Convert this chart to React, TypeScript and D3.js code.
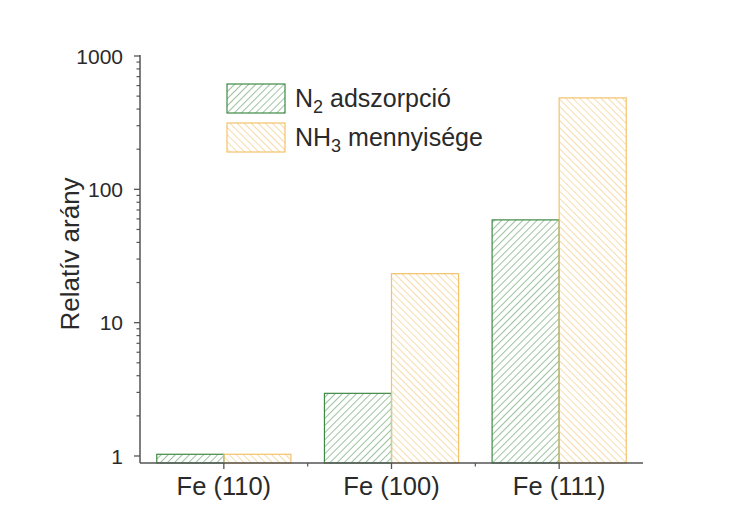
import React from "react";
import * as d3 from "d3";

const categories = ["Fe (110)", "Fe (100)", "Fe (111)"];
const n2Values = [1.03, 2.95, 59];
const nh3Values = [1.03, 23.3, 485];
const yTicks = [1, 10, 100, 1000];

const W = 729, H = 531;
const left = 140, right = 643, top = 56, bottom = 463;

export default function App() {
  const x = d3.scaleBand<string>().domain(categories).range([left, right]).paddingInner(0.2).paddingOuter(0.1);
  const y = d3.scaleLog().domain([0.886, 1000]).range([bottom, top]);
  const bw = x.bandwidth() / 2;
  const green = "#3f8a45";
  const greenHatch = "#5a9a5e";
  const orange = "#f3c26a";
  const orangeHatch = "#f1c575";
  const minorTicks: number[] = [];
  for (let d = 1; d <= 100; d *= 10) for (let k = 2; k <= 9; k++) minorTicks.push(d * k);
  const bandEdges = categories.map((c) => x(c)! + x.bandwidth() + x.step() * 0.1);
  const font = "'Liberation Sans', Arial, sans-serif";
  const textColor = "#2a2a2a";
  return (
    <svg width={W} height={H} style={{ position: "absolute", left: 0, top: 0, background: "#fff" }}>
      <defs>
        <pattern id="hg" patternUnits="userSpaceOnUse" width="5" height="5" patternTransform="rotate(45)">
          <line x1="0" y1="0" x2="0" y2="5" stroke={greenHatch} strokeWidth="1.2" />
        </pattern>
        <pattern id="ho" patternUnits="userSpaceOnUse" width="5" height="5" patternTransform="rotate(-45)">
          <line x1="0" y1="0" x2="0" y2="5" stroke={orangeHatch} strokeWidth="1.2" />
        </pattern>
      </defs>
      {categories.map((c, i) => (
        <g key={c}>
          <rect x={x(c)!} y={y(n2Values[i])} width={bw} height={bottom - y(n2Values[i])} fill="url(#hg)" stroke={green} strokeWidth={1.2} />
          <rect x={x(c)! + bw} y={y(nh3Values[i])} width={bw} height={bottom - y(nh3Values[i])} fill="url(#ho)" stroke={orange} strokeWidth={1.2} />
        </g>
      ))}
      <line x1={left} x2={left} y1={top - 1} y2={bottom} stroke="#555" strokeWidth={1.5} />
      <line x1={left} x2={right} y1={bottom} y2={bottom} stroke="#555" strokeWidth={1.5} />
      {yTicks.map((t) => (
        <g key={t}>
          <line x1={left - 6} x2={left} y1={y(t)} y2={y(t)} stroke="#555" strokeWidth={1.3} />
          <text x={123} y={y(t)} dy="0.36em" textAnchor="end" fontFamily={font} fontSize={21} fill={textColor}>{t}</text>
        </g>
      ))}
      {minorTicks.map((t) => (
        <line key={t} x1={left - 3.5} x2={left} y1={y(t)} y2={y(t)} stroke="#555" strokeWidth={1.2} />
      ))}
      {categories.map((c) => (
        <g key={c}>
          <line x1={x(c)! + x.bandwidth() / 2} x2={x(c)! + x.bandwidth() / 2} y1={bottom} y2={bottom + 6} stroke="#555" strokeWidth={1.3} />
          <text x={x(c)! + x.bandwidth() / 2} y={495} textAnchor="middle" fontFamily={font} fontSize={25.5} fill={textColor}>{c}</text>
        </g>
      ))}
      {bandEdges.slice(0, 2).map((e, i) => (
        <line key={i} x1={e} x2={e} y1={bottom} y2={bottom + 3.5} stroke="#555" strokeWidth={1.2} />
      ))}
      <text transform="translate(79,254) rotate(-90)" textAnchor="middle" fontFamily={font} fontSize={26} fill={textColor}>Relatív arány</text>
      <rect x={227} y={84} width={58} height={29} fill="url(#hg)" stroke={green} strokeWidth={1.2} />
      <rect x={227} y={123} width={58} height={29} fill="url(#ho)" stroke={orange} strokeWidth={1.2} />
      <text x={295} y={107} fontFamily={font} fontSize={25} fill={textColor}>
        N<tspan fontSize={18} dy={6}>2</tspan><tspan dy={-6}> adszorpció</tspan>
      </text>
      <text x={295} y={146} fontFamily={font} fontSize={25} fill={textColor}>
        NH<tspan fontSize={18} dy={6}>3</tspan><tspan dy={-6}> mennyisége</tspan>
      </text>
    </svg>
  );
}
